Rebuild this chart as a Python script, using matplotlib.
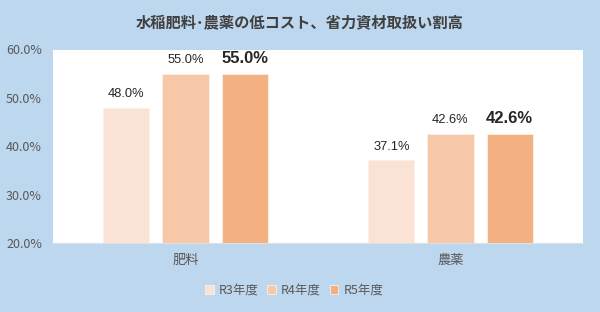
import numpy as np
import matplotlib.pyplot as plt

plt.rcParams['font.family'] = ['Noto Sans CJK JP', 'DejaVu Sans']

# データ
categories = ['肥料', '農薬']
series_names = ['R3年度', 'R4年度', 'R5年度']
r3 = [48.0, 37.1]
r4 = [55.0, 42.6]
r5 = [55.0, 42.6]
values = [r3, r4, r5]
colors = ['#FAE3D6', '#F7C8A8', '#F3B081']
title = '水稲肥料･農薬の低コスト、省力資材取扱い割高'

bg = '#BDD7EE'
fig = plt.figure(figsize=(6, 3.12), dpi=100, facecolor=bg)
ax = fig.add_axes([53/600, 69/312, 530/600, 193.5/312])
ax.set_facecolor('white')

x = np.arange(len(categories))
width = 0.174
step = 0.223
for i, (vals, c, name) in enumerate(zip(values, colors, series_names)):
    pos = x + (i - 1) * step
    bars = ax.bar(pos, vals, width, color=c, label=name, edgecolor='#FDEFE6', linewidth=0.6)
    for b, v in zip(bars, vals):
        if i == 2:
            ax.text(b.get_x() + b.get_width()/2, v + 1.5, f'{v:.1f}%', ha='center', va='bottom',
                    fontsize=12, fontweight='bold', color='#262626', family='Liberation Sans')
        else:
            ax.text(b.get_x() + b.get_width()/2, v + 1.5, f'{v:.1f}%', ha='center', va='bottom',
                    fontsize=9.3, color='#262626', family='Liberation Sans')

ax.set_xlim(-0.5, 1.5)
ax.set_ylim(20, 60)
ax.set_yticks(np.arange(20, 61, 10))
ax.set_yticklabels([f'{t:.1f}%' for t in np.arange(20, 61, 10)])
ax.set_xticks(x)
ax.set_xticklabels(categories)
ax.tick_params(axis='y', length=0, labelsize=9, colors='#595959', pad=8)
ax.tick_params(axis='x', length=0, labelsize=9.5, colors='#595959', pad=8)
for s in ax.spines.values():
    s.set_visible(False)
ax.spines['bottom'].set_visible(True)
ax.spines['bottom'].set_color('#E0E0E0')

fig.text(0.5, 1 - 22/312, title, ha='center', va='center', fontsize=11,
         fontweight='bold', color='#404040')

fig.legend(loc='center', bbox_to_anchor=(294/600, 1 - 290/312), ncol=3, frameon=False,
           fontsize=9, handlelength=0.7, handleheight=0.7, handletextpad=0.4,
           columnspacing=0.7, labelcolor='#595959')

fig.savefig('out.png', dpi=100, facecolor=bg)
